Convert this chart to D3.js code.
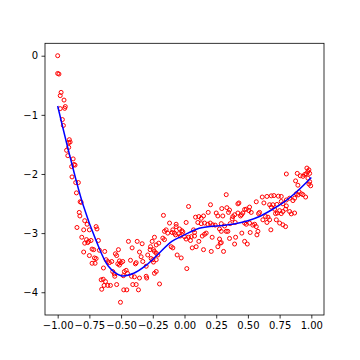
<!DOCTYPE html>
<html><head><meta charset="utf-8">
<script src="https://cdn.jsdelivr.net/npm/d3@7"></script>
<style>body{margin:0;background:#fff}svg{display:block}</style>
</head><body><svg id="c" width="360" height="360"></svg>
<script>
const ptX = [-1.0,-1.0,-0.99,-0.973,-0.98,-0.95,-0.94,-0.945,-0.98,-0.963,-0.955,-0.908,-0.902,-0.913,-0.913,-0.93,-0.92,-0.878,-0.89,-0.871,-0.863,-0.887,-0.858,-0.837,-0.852,-0.823,-0.815,-0.83,-0.825,-0.787,-0.768,-0.848,-0.795,-0.75,-0.697,-0.69,-0.81,-0.773,-0.755,-0.787,-0.763,-0.737,-0.679,-0.795,-0.75,-0.729,-0.716,-0.71,-0.697,-0.729,-0.705,-0.671,-0.629,-0.618,-0.605,-0.592,-0.574,-0.639,-0.657,-0.641,-0.623,-0.634,-0.653,-0.605,-0.584,-0.566,-0.553,-0.55,-0.545,-0.535,-0.521,-0.513,-0.5,-0.487,-0.526,-0.513,-0.535,-0.505,-0.479,-0.455,-0.474,-0.46,-0.45,-0.482,-0.442,-0.413,-0.426,-0.381,-0.387,-0.418,-0.395,-0.408,-0.381,-0.363,-0.373,-0.334,-0.355,-0.342,-0.329,-0.355,-0.302,-0.298,-0.302,-0.29,-0.263,-0.25,-0.245,-0.223,-0.268,-0.237,-0.223,-0.21,-0.197,-0.237,-0.223,-0.203,-0.166,-0.158,-0.145,-0.132,-0.171,-0.158,-0.118,-0.105,-0.092,-0.092,-0.079,-0.071,-0.058,-0.066,-0.237,-0.255,-0.223,-0.271,-0.245,-0.097,-0.039,-0.021,-0.013,-0.045,-0.034,0.0,0.013,0.032,0.053,0.079,0.047,0.071,0.079,0.14,0.158,0.171,0.113,0.218,0.276,0.29,0.276,0.29,0.329,-0.026,0.018,0.061,0.092,0.15,0.211,0.263,0.282,0.308,0.032,0.205,0.294,0.334,0.087,0.113,0.132,0.15,0.187,0.25,0.263,0.302,0.347,-0.066,0.013,0.105,0.132,0.158,0.184,0.203,0.223,0.242,0.29,0.316,0.329,0.421,0.429,0.381,0.376,0.442,0.45,0.46,0.487,0.513,0.508,0.526,0.474,0.487,0.513,0.539,0.553,0.566,0.566,0.592,0.584,0.613,0.65,0.626,0.684,0.705,0.74,0.763,0.697,0.729,0.763,0.639,0.658,0.671,0.65,0.618,0.718,0.732,0.763,0.724,0.75,0.776,0.797,0.681,0.579,0.571,0.518,0.452,0.403,0.474,0.495,0.395,0.355,0.342,0.776,0.803,0.829,0.855,0.868,0.803,0.829,0.842,0.868,0.882,0.895,0.921,0.955,0.355,0.395,0.421,0.474,0.671,0.803,0.889,0.913,0.934,0.947,0.96,0.973,0.965,0.981,0.987,0.973,0.987,0.995,0.981,0.876,0.894,0.903,0.934,0.684,0.71,0.75,0.776,0.797,0.36,0.4];
const ptY = [0.0,-0.30,-0.31,-0.62,-0.675,-0.75,-0.86,-0.89,-0.895,-1.08,-1.18,-1.42,-1.46,-1.47,-1.55,-1.60,-1.69,-1.745,-1.875,-1.84,-1.85,-2.05,-2.145,-2.145,-2.32,-2.47,-2.48,-2.65,-2.71,-2.79,-2.85,-2.905,-2.945,-2.945,-2.89,-2.93,-3.07,-3.11,-3.14,-3.17,-3.16,-3.125,-3.125,-3.32,-3.38,-3.27,-3.28,-3.42,-3.43,-3.51,-3.51,-3.29,-3.31,-3.45,-3.48,-3.5,-3.48,-3.59,-3.79,-3.78,-3.82,-3.885,-3.95,-3.885,-3.885,-3.65,-3.69,-3.73,-3.35,-3.38,-3.28,-3.47,-3.5,-3.48,-3.52,-3.54,-3.87,-4.17,-3.96,-3.96,-3.65,-3.63,-3.68,-3.72,-3.14,-3.25,-3.46,-3.5,-3.52,-3.73,-3.74,-3.87,-3.87,-3.96,-3.14,-3.18,-3.32,-3.40,-3.48,-3.76,-3.73,-3.76,-3.56,-3.37,-3.43,-3.45,-3.49,-3.45,-3.23,-3.31,-3.34,-3.37,-3.86,-3.68,-3.65,-3.17,-2.70,-2.97,-2.945,-3.0,-3.085,-3.11,-2.83,-3.23,-3.25,-2.945,-3.0,-3.03,-3.37,-2.89,-3.07,-3.14,-3.2,-3.28,-3.28,-2.99,-2.93,-2.96,-2.98,-3.01,-3.05,-3.06,-3.10,-3.07,-3.06,-3.05,-3.125,-2.945,-2.99,-3.05,-3.02,-3.0,-3.14,-3.07,-2.93,-2.97,-3.1,-3.16,-2.97,-3.42,-3.60,-3.25,-3.23,-3.28,-3.31,-3.23,-3.17,-3.31,-2.55,-2.52,-2.585,-2.57,-2.73,-2.72,-2.75,-2.71,-2.65,-2.66,-2.71,-2.71,-2.65,-2.85,-2.82,-2.82,-2.84,-2.83,-2.85,-2.83,-2.86,-2.865,-2.84,-2.88,-2.35,-2.505,-2.49,-2.72,-2.76,-2.71,-2.69,-2.66,-2.595,-2.56,-2.62,-2.65,-2.83,-2.85,-2.83,-2.865,-2.85,-2.89,-2.47,-2.65,-2.67,-2.39,-2.38,-2.49,-2.37,-2.365,-2.375,-2.38,-2.52,-2.515,-2.465,-2.72,-2.73,-2.775,-2.82,-2.775,-2.67,-2.66,-2.67,-2.775,-2.83,-2.86,-2.89,-2.945,-2.97,-3.03,-2.99,-3.0,-3.07,-3.14,-3.185,-3.185,-3.09,-2.97,-2.505,-2.44,-2.41,-2.45,-2.41,-2.54,-2.635,-2.675,-2.66,-2.335,-2.355,-2.335,-2.39,-2.61,-2.69,-2.66,-2.6,-2.52,-2.0,-1.99,-2.03,-2.04,-2.01,-1.995,-1.96,-1.90,-1.93,-1.99,-2.07,-2.13,-2.2,-2.17,-2.117,-2.19,-2.30,-2.35,-2.56,-2.595,-2.62,-2.635,-2.595,-2.84,-2.82];
const fitX = [-1.0,-0.9,-0.8,-0.7,-0.6,-0.5,-0.4,-0.3,-0.2,-0.1,0.0,0.1,0.2,0.3,0.4,0.5,0.6,0.7,0.8,0.9,1.0];
const fitY = [-0.85,-1.73,-2.52,-3.11,-3.56,-3.72,-3.68,-3.54,-3.34,-3.14,-3.03,-2.93,-2.89,-2.87,-2.84,-2.79,-2.71,-2.59,-2.45,-2.27,-2.06];
const xTicks = [-1.0,-0.75,-0.5,-0.25,0.0,0.25,0.5,0.75,1.0];
const yTicks = [0,-1,-2,-3,-4];

const L=45,R=324,T=43.3,B=315;
const svg=d3.select("#c");
const x=d3.scaleLinear().domain([-1.1,1.1]).range([L,R]);
const y=d3.scaleLinear().domain([-4.385,0.21]).range([B,T]);
const fmtMinus=s=>s.replace("-","\u2212");

const gx=svg.append("g").attr("transform",`translate(0,${B})`)
  .call(d3.axisBottom(x).tickValues(xTicks).tickSize(3.5).tickPadding(3.5).tickFormat(d=>fmtMinus(d3.format(".2f")(d))));
const gy=svg.append("g").attr("transform",`translate(${L},0)`)
  .call(d3.axisLeft(y).tickValues(yTicks).tickSize(3.5).tickPadding(3.5).tickFormat(d=>fmtMinus(String(d))));
[gx,gy].forEach(g=>{
  g.select(".domain").remove();
  g.selectAll("line").attr("stroke","#000").attr("stroke-width",0.8);
  g.selectAll("text").attr("font-family","DejaVu Sans").attr("font-size",10).attr("fill","#000");
});

const pts=ptX.map((v,i)=>[v,ptY[i]]);
svg.append("g").selectAll("circle").data(pts).join("circle")
  .attr("cx",d=>x(d[0])).attr("cy",d=>y(d[1])).attr("r",2)
  .attr("fill","none").attr("stroke","#ff0000").attr("stroke-width",1);

const fit=fitX.map((v,i)=>[v,fitY[i]]);
svg.append("path").datum(fit)
  .attr("d",d3.line().x(d=>x(d[0])).y(d=>y(d[1])).curve(d3.curveCatmullRom))
  .attr("fill","none").attr("stroke","#0000ff").attr("stroke-width",1.5);

svg.append("rect").attr("x",L).attr("y",T).attr("width",R-L).attr("height",B-T)
  .attr("fill","none").attr("stroke","#000").attr("stroke-width",0.8);
</script></body></html>
